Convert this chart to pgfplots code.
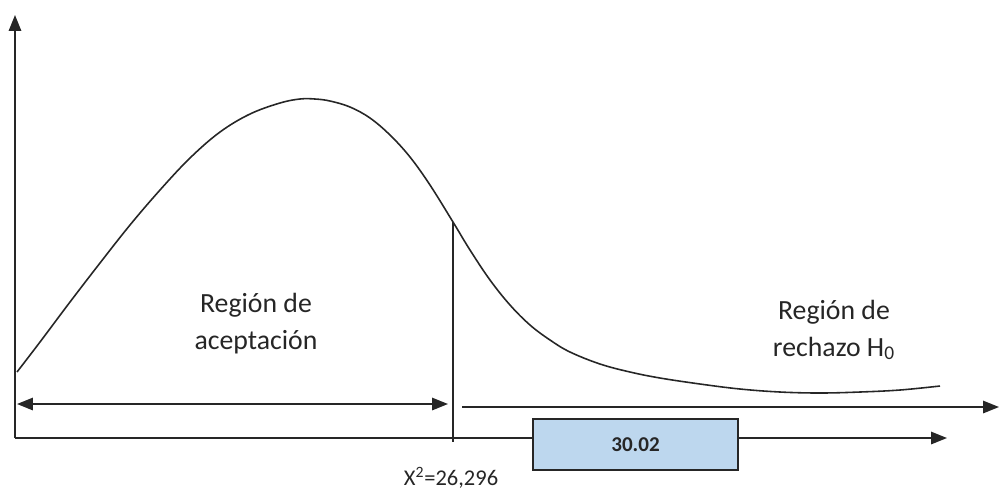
\documentclass[border=0pt]{standalone}
\usepackage{pgfplots}
\pgfplotsset{compat=1.18}
\usepackage{fontspec}
\setmainfont{Carlito}
\usetikzlibrary{arrows.meta}
\definecolor{boxblue}{HTML}{BDD7EE}
\definecolor{ink}{HTML}{262626}
\begin{document}
\begin{tikzpicture}
\begin{axis}[
    width=20cm, height=9.82cm,
    scale only axis,
    xmin=0, xmax=1000,
    ymin=0, ymax=491,
    y dir=reverse,
    hide axis,
    clip=false,
]
% curve (pixel coordinates, y downwards)
\addplot[ink, line width=0.9pt, smooth, tension=0.6] coordinates {
    (17,372) (40,342) (70,302) (100,263) (130,225) (160,190) (190,158)
    (220,132) (250,114) (280,103) (300,99) (315,99) (330,101) (350,107)
    (370,118) (390,135) (410,157) (430,185) (453,222) (470,250) (490,280)
    (510,305) (530,325) (550,340) (570,352) (600,364) (630,372) (660,378)
    (700,384) (740,389) (780,392) (820,393) (860,392) (900,390) (940,386)
};
% axes
\draw[ink, line width=1pt, -{Triangle[length=9pt,width=7pt]}] (axis cs:15,438) -- (axis cs:15,15);
\draw[ink, line width=1pt, -{Triangle[length=9pt,width=7pt]}] (axis cs:15,438) -- (axis cs:947,438);
% critical value line
\draw[ink, line width=0.9pt] (axis cs:453,222) -- (axis cs:453,442);
% acceptance arrow
\draw[ink, line width=1pt, {Triangle[length=9pt,width=7pt]}-{Triangle[length=9pt,width=7pt]}] (axis cs:17,404) -- (axis cs:448,404);
% rejection arrow
\draw[ink, line width=1pt, -{Triangle[length=9pt,width=7pt]}] (axis cs:462,407) -- (axis cs:999,407);
% box
\draw[ink, line width=1pt, fill=boxblue] (axis cs:533,419) rectangle (axis cs:738,470);
\node[font=\fontsize{12}{14}\selectfont\bfseries, text=ink] at (axis cs:635.5,444.5) {30.02};
% labels
\node[font=\fontsize{12.8}{14}\selectfont, text=ink] at (axis cs:451,478) {X\textsuperscript{2}=26,296};
\node[font=\fontsize{15.8}{21}\selectfont, text=ink, align=center] at (axis cs:256,324) {Región de\\aceptación};
\node[font=\fontsize{15.8}{21}\selectfont, text=ink, align=center] at (axis cs:834,330) {Región de\\rechazo H\textsubscript{0}};
\end{axis}
\pgfresetboundingbox
\path (current axis.south west) rectangle (current axis.north east);
\end{tikzpicture}
\end{document}
